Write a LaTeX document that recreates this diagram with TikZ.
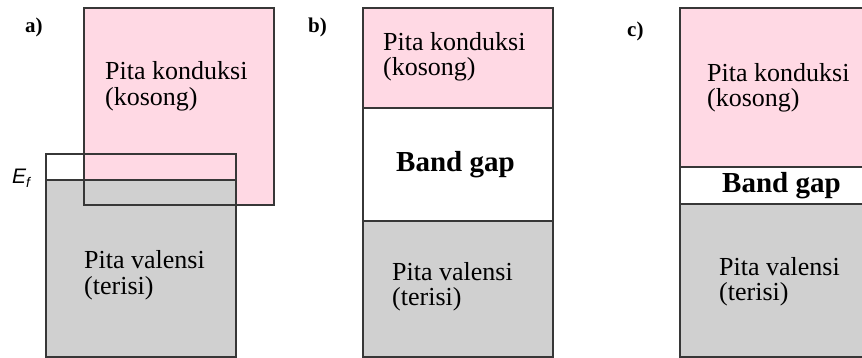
\documentclass[tikz,border=0pt]{standalone}
\usepackage{fontspec}
\setmainfont{Liberation Serif}
\newfontfamily\efont{Liberation Sans}
\definecolor{condpink}{RGB}{255,217,228}
\definecolor{valgray}{RGB}{208,208,208}
\definecolor{edge}{RGB}{55,55,55}
\tikzset{
  bandline/.style={draw=edge, line width=1.6pt},
  bandtext/.style={anchor=base west, inner sep=0pt, font=\fontsize{26}{26}\selectfont},
  gaptext/.style={anchor=base west, inner sep=0pt, font=\fontsize{29}{29}\selectfont\bfseries},
  paneltag/.style={anchor=base west, inner sep=0pt, font=\fontsize{21}{21}\selectfont\bfseries}
}
\begin{document}
\begin{tikzpicture}[x=1pt, y=-1pt]
\useasboundingbox (0,0) rectangle (862,358);
\clip (0,0) rectangle (862,358);

% ---- a) overlapping bands (metal) ----
\fill[condpink] (84,8) rectangle (274,205);
\fill[valgray] (46,180) rectangle (236,357);
\draw[bandline] (84,8) rectangle (274,205);
\draw[bandline] (46,154) rectangle (236,357);
\coordinate (efL) at (46,180);
\coordinate (efR) at (236,180);
\draw[bandline] (efL) -- (efR);
\node[paneltag] (tagA) at (25,33) {a)};
\node[bandtext] (condA1) at (105,80) {Pita konduksi};
\node[bandtext] (condA2) at (105,106) {(kosong)};
\node[bandtext] (valA1) at (84,268) {Pita valensi};
\node[bandtext] (valA2) at (84,294) {(terisi)};
\node[anchor=base west, inner sep=0pt, font=\efont\itshape\fontsize{21}{21}\selectfont] (ef) at (12,184)
  {E\raisebox{-4pt}{\fontsize{14}{14}\selectfont f}};

% ---- b) wide band gap (insulator) ----
\fill[condpink] (363,8) rectangle (553,108);
\fill[white] (363,108) rectangle (553,221);
\fill[valgray] (363,221) rectangle (553,357);
\draw[bandline] (363,8) rectangle (553,357);
\draw[bandline] (363,108) -- (553,108);
\draw[bandline] (363,221) -- (553,221);
\node[paneltag] (tagB) at (308,33) {b)};
\node[bandtext] (condB1) at (383,51) {Pita konduksi};
\node[bandtext] (condB2) at (383,76) {(kosong)};
\node[gaptext] (gapB) at (396,172) {Band gap};
\node[bandtext] (valB1) at (392,280) {Pita valensi};
\node[bandtext] (valB2) at (392,305) {(terisi)};

% ---- c) narrow band gap (semiconductor) ----
\fill[condpink] (680,8) rectangle (890,167);
\fill[valgray] (680,204) rectangle (890,357);
\draw[bandline] (890,8) -- (680,8) -- (680,357) -- (890,357);
\draw[bandline] (680,167) -- (890,167);
\draw[bandline] (680,204) -- (890,204);
\node[paneltag] (tagC) at (627,37) {c)};
\node[bandtext] (condC1) at (707,82) {Pita konduksi};
\node[bandtext] (condC2) at (707,107) {(kosong)};
\node[gaptext] (gapC) at (722,193) {Band gap};
\node[bandtext] (valC1) at (719,275) {Pita valensi};
\node[bandtext] (valC2) at (719,300) {(terisi)};
\end{tikzpicture}
\end{document}
